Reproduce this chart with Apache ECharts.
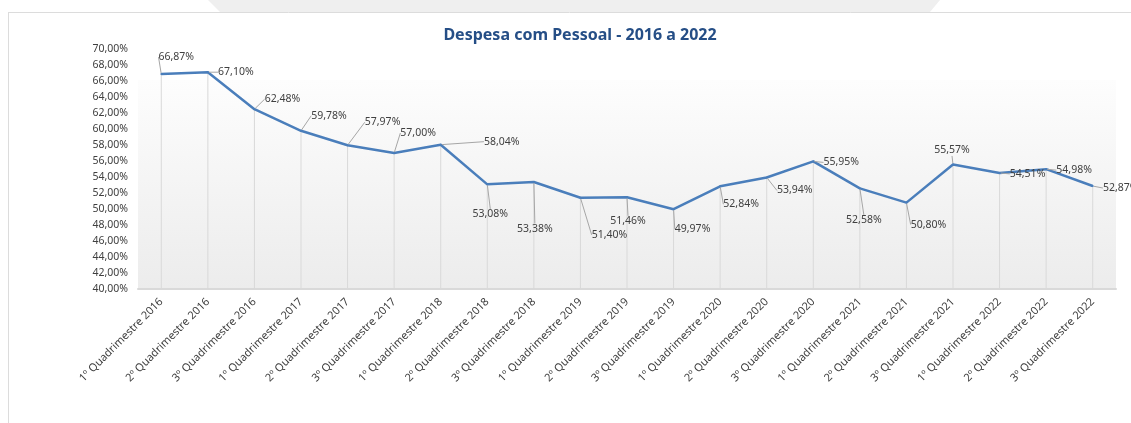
<!DOCTYPE html>
<html>
<head>
<meta charset="utf-8">
<script src="https://cdn.jsdelivr.net/npm/echarts@6/dist/echarts.min.js"></script>
<style>
  html, body { margin: 0; padding: 0; background: #fff; }
  #chart { width: 1131px; height: 423px; }
</style>
</head>
<body>
<div id="chart"></div>
<script>
const categories = [
  '1º Quadrimestre 2016', '2º Quadrimestre 2016', '3º Quadrimestre 2016',
  '1º Quadrimestre 2017', '2º Quadrimestre 2017', '3º Quadrimestre 2017',
  '1º Quadrimestre 2018', '2º Quadrimestre 2018', '3º Quadrimestre 2018',
  '1º Quadrimestre 2019', '2º Quadrimestre 2019', '3º Quadrimestre 2019',
  '1º Quadrimestre 2020', '2º Quadrimestre 2020', '3º Quadrimestre 2020',
  '1º Quadrimestre 2021', '2º Quadrimestre 2021', '3º Quadrimestre 2021',
  '1º Quadrimestre 2022', '2º Quadrimestre 2022', '3º Quadrimestre 2022'
]
const despesa = [
  66.87, 67.10, 62.48, 59.78, 57.97, 57.00, 58.04, 53.08, 53.38, 51.40, 51.46,
  49.97, 52.84, 53.94, 55.95, 52.58, 50.80, 55.57, 54.51, 54.98, 52.87
]

// label offsets from each point (Excel placed them by hand)
const labelShift = [
  [15, -17], [28, 0], [28, -10], [28, -15], [35, -23], [24, -20], [61, -3],
  [3, 30], [1, 47], [29, 37], [1, 24], [19, 20], [21, 18], [28, 13],
  [28, 1], [4, 32], [22, 22], [-1, -14], [28, 1], [28, 1], [28, 2]
]

const pct = (v) => v.toFixed(2).replace('.', ',') + '%'
const FONT = 'Noto Sans'

const chart = echarts.init(document.getElementById('chart'))
chart.setOption({
  animation: false,
  textStyle: { fontFamily: FONT },
  title: {
    text: 'Despesa com Pessoal - 2016 a 2022',
    left: 575,
    top: 22,
    textAlign: 'center',
    textStyle: { color: '#254e86', fontSize: 16, fontWeight: 'bold', fontFamily: FONT }
  },
  graphic: [
    {
      type: 'polygon',
      silent: true,
      shape: { points: [[208, 0], [940, 0], [930, 12], [220, 12]] },
      style: { fill: '#efefef' }
    },
    {
      type: 'line',
      silent: true,
      shape: { x1: 8, y1: 12.5, x2: 1131, y2: 12.5 },
      style: { stroke: '#dcdcdc', lineWidth: 1 }
    },
    {
      type: 'line',
      silent: true,
      shape: { x1: 8.5, y1: 12, x2: 8.5, y2: 423 },
      style: { stroke: '#dcdcdc', lineWidth: 1 }
    }
  ],
  grid: {
    left: 138,
    right: 15,
    top: 49,
    bottom: 134,
    show: true,
    borderWidth: 0,
    backgroundColor: new echarts.graphic.LinearGradient(0, 0, 0, 1, [
      { offset: 0, color: '#ffffff' },
      { offset: 0.129, color: '#ffffff' },
      { offset: 0.13, color: '#fdfdfd' },
      { offset: 1, color: '#ececec' }
    ])
  },
  xAxis: {
    type: 'category',
    data: categories,
    boundaryGap: true,
    axisTick: { show: false },
    axisLine: { lineStyle: { color: '#d9d9d9', width: 2 } },
    axisLabel: {
      interval: 0,
      rotate: 45,
      margin: 11,
      color: '#404040',
      fontSize: 11,
      fontFamily: FONT
    }
  },
  yAxis: {
    type: 'value',
    min: 40,
    max: 70,
    interval: 2,
    axisLine: { show: false },
    axisTick: { show: false },
    splitLine: { show: false },
    axisLabel: {
      margin: 10,
      color: '#404040',
      fontSize: 10.5,
      fontFamily: FONT,
      formatter: (v) => pct(v)
    }
  },
  series: [
    {
      // drop lines from each point to the axis
      type: 'bar',
      data: despesa,
      barWidth: 1,
      silent: true,
      itemStyle: { color: '#d9d9d9' },
      z: 1
    },
    {
      type: 'line',
      data: despesa,
      symbol: 'circle',
      symbolSize: 2,
      itemStyle: { color: '#4a7ebb' },
      lineStyle: { color: '#4a7ebb', width: 2.5 },
      z: 3,
      label: {
        show: true,
        position: 'inside',
        color: '#404040',
        fontSize: 10.5,
        fontFamily: FONT,
        formatter: (p) => pct(p.value)
      },
      labelLine: {
        show: true,
        lineStyle: { color: '#a6a6a6', width: 1 }
      },
      labelLayout: (p) => ({
        dx: labelShift[p.dataIndex][0],
        dy: labelShift[p.dataIndex][1]
      })
    }
  ]
})
</script>
</body>
</html>
